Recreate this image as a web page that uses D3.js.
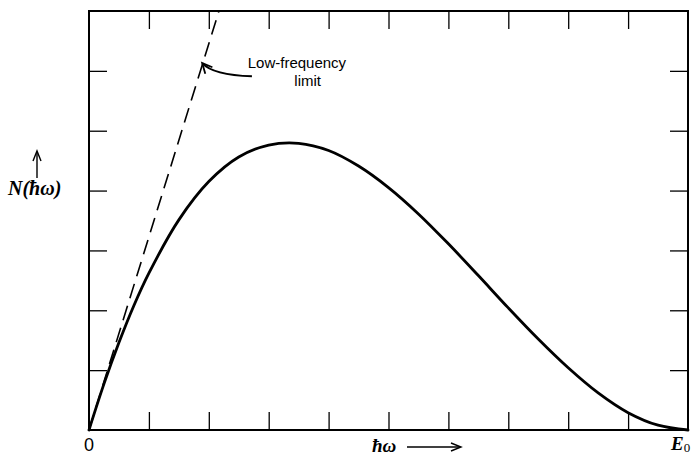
<!DOCTYPE html>
<html>
<head>
<meta charset="utf-8">
<script src="https://cdn.jsdelivr.net/npm/d3@7"></script>
<style>
  html, body { margin: 0; padding: 0; background: #fff; }
  svg { display: block; }
</style>
</head>
<body>
<svg id="chart" width="697" height="456"></svg>
<script>
// ---- data (x in units of E0/10, y in tick units) ----
const curveX = [0, 0.25, 0.5, 0.75, 1, 1.5, 2, 2.5, 3, 3.5, 4, 4.5, 5, 5.5, 6, 6.5, 7, 7.5, 8, 8.5, 9, 9.5, 10];
const curveY = [0, 0.77, 1.46, 2.08, 2.62, 3.51, 4.15, 4.56, 4.76, 4.79, 4.67, 4.41, 4.05, 3.61, 3.11, 2.58, 2.04, 1.52, 1.04, 0.62, 0.29, 0.08, 0];
const limitX = [0, 2.17];
const limitY = [0, 7];
const xTicks = [1, 2, 3, 4, 5, 6, 7, 8, 9];
const yTicks = [1, 2, 3, 4, 5, 6];
const xTickLabels = ["0", "E"];
const annotationLines = ["Low-frequency", "limit"];

// ---- layout ----
const svg = d3.select("#chart");
const x = d3.scaleLinear().domain([0, 10]).range([89, 688]);
const y = d3.scaleLinear().domain([0, 7]).range([430, 11]);
const tickLen = 18;

// ticks (inward on all four sides)
const tickStyle = g => {
  g.select(".domain").remove();
  g.selectAll(".tick line").attr("stroke", "#000").attr("stroke-width", 1.3);
  g.selectAll(".tick text").remove();
};
svg.append("g").attr("transform", `translate(0,${y(0)})`)
  .call(d3.axisBottom(x).tickValues(xTicks).tickSize(-tickLen)).call(tickStyle);
svg.append("g").attr("transform", `translate(0,${y(7)})`)
  .call(d3.axisTop(x).tickValues(xTicks).tickSize(-tickLen)).call(tickStyle);
svg.append("g").attr("transform", `translate(${x(0)},0)`)
  .call(d3.axisLeft(y).tickValues(yTicks).tickSize(-tickLen)).call(tickStyle);
svg.append("g").attr("transform", `translate(${x(10)},0)`)
  .call(d3.axisRight(y).tickValues(yTicks).tickSize(-tickLen)).call(tickStyle);

// frame
svg.append("rect")
  .attr("x", x(0)).attr("y", y(7))
  .attr("width", x(10) - x(0)).attr("height", y(0) - y(7))
  .attr("fill", "none").attr("stroke", "#000").attr("stroke-width", 2);

// low-frequency limit (dashed)
const dashedPts = limitX.map((v, i) => [v, limitY[i]]);
svg.append("path")
  .attr("d", d3.line().x(d => x(d[0])).y(d => y(d[1]))(dashedPts))
  .attr("fill", "none").attr("stroke", "#000").attr("stroke-width", 1.6)
  .attr("stroke-dasharray", "15,8");

// spectrum curve
const pts = curveX.map((v, i) => [v, curveY[i]]);
svg.append("path")
  .attr("d", d3.line().curve(d3.curveCatmullRom).x(d => x(d[0])).y(d => y(d[1]))(pts))
  .attr("fill", "none").attr("stroke", "#000").attr("stroke-width", 2.8)
  .attr("stroke-linejoin", "round").attr("stroke-linecap", "round");

// annotation
const ann = svg.append("g").attr("font-family", "'Liberation Sans', Arial, sans-serif")
  .attr("font-size", 15).attr("fill", "#000");
ann.append("text").attr("x", x(2.65)).attr("y", y(6.04)).text(annotationLines[0]);
ann.append("text").attr("x", x(3.65)).attr("y", y(5.75)).attr("text-anchor", "middle").text(annotationLines[1]);

// annotation arrow
const tip = [x(1.89), y(6.13)];
const ctrl = [x(2.07), y(5.93)];
const start = [x(2.72), y(5.91)];
svg.append("path")
  .attr("d", `M${start[0]},${start[1]} Q${ctrl[0]},${ctrl[1]} ${tip[0]},${tip[1]}`)
  .attr("fill", "none").attr("stroke", "#000").attr("stroke-width", 2);
// arrow head (open V), direction from ctrl to tip
{
  const ang = Math.atan2(tip[1] - ctrl[1], tip[0] - ctrl[0]);
  const L = 11, a = 0.45;
  const p1 = [tip[0] - L * Math.cos(ang - a), tip[1] - L * Math.sin(ang - a)];
  const p2 = [tip[0] - L * Math.cos(ang + a), tip[1] - L * Math.sin(ang + a)];
  svg.append("path")
    .attr("d", `M${p1[0]},${p1[1]} L${tip[0]},${tip[1]} L${p2[0]},${p2[1]}`)
    .attr("fill", "none").attr("stroke", "#000").attr("stroke-width", 1.8);
}

// axis labels
svg.append("text").attr("x", x(0)).attr("y", 451).attr("text-anchor", "middle")
  .attr("font-family", "'Liberation Sans', Arial, sans-serif").attr("font-size", 18)
  .text(xTickLabels[0]);
const e0 = svg.append("text").attr("x", 671).attr("y", 450)
  .attr("font-family", "'Liberation Serif', 'DejaVu Serif', serif").attr("font-size", 19)
  .attr("font-weight", "bold").attr("font-style", "italic");
e0.append("tspan").text(xTickLabels[1]);
e0.append("tspan").attr("dy", 2).attr("font-size", 13).attr("font-style", "normal").attr("font-weight", "normal").text("0");

// x axis title with arrow
svg.append("text").attr("x", 372).attr("y", 452)
  .attr("font-family", "'Liberation Serif', 'DejaVu Serif', serif").attr("font-size", 19)
  .attr("font-weight", "bold").attr("font-style", "italic").text("ħω");
svg.append("line").attr("x1", 407).attr("x2", 460).attr("y1", 447).attr("y2", 447)
  .attr("stroke", "#000").attr("stroke-width", 1.4);
svg.append("path").attr("d", "M451,443 L461,447 L451,451").attr("fill", "none")
  .attr("stroke", "#000").attr("stroke-width", 1.4);

// y axis title with arrow
svg.append("text").attr("x", 8).attr("y", 195)
  .attr("font-family", "'Liberation Serif', 'DejaVu Serif', serif").attr("font-size", 20)
  .attr("font-weight", "bold").attr("font-style", "italic").text("N(ħω)");
svg.append("line").attr("x1", 37).attr("x2", 37).attr("y1", 178).attr("y2", 152)
  .attr("stroke", "#000").attr("stroke-width", 1.4);
svg.append("path").attr("d", "M33,161 L37,151 L41,161").attr("fill", "none")
  .attr("stroke", "#000").attr("stroke-width", 1.4);
</script>
</body>
</html>
